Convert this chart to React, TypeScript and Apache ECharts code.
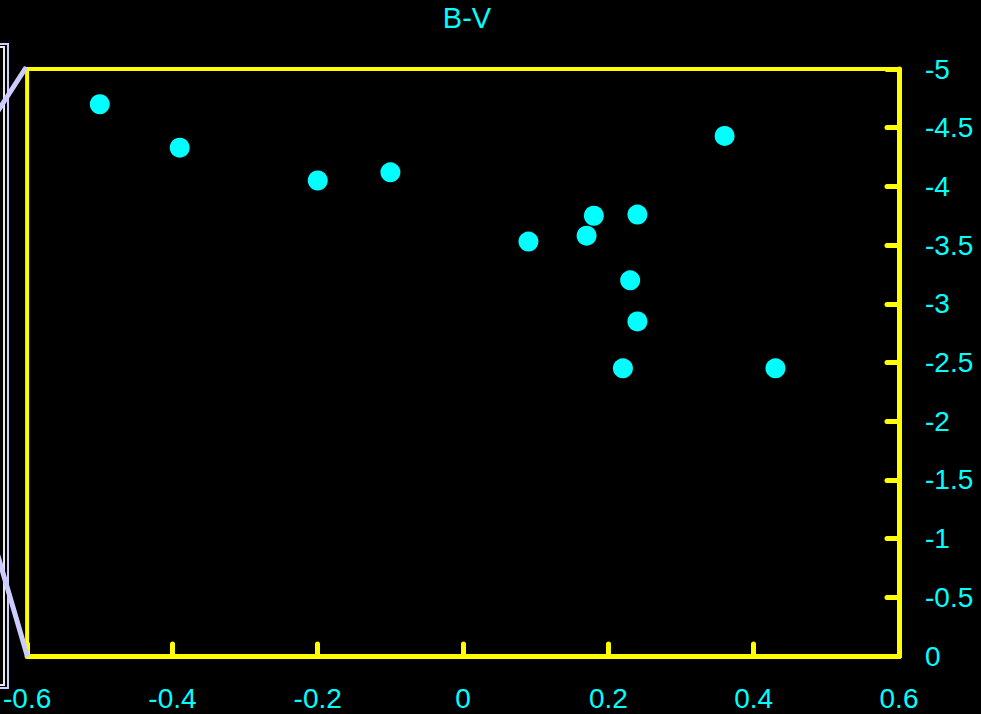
import React, { useEffect, useRef } from "react";
import * as echarts from "echarts";

const titleText = "B-V";
const bvValues = [-0.5, -0.39, -0.2, -0.1, 0.09, 0.18, 0.24, 0.17, 0.23, 0.24, 0.22, 0.43, 0.36];
const magValues = [-4.7, -4.33, -4.05, -4.12, -3.53, -3.75, -3.76, -3.58, -3.2, -2.85, -2.45, -2.45, -4.43];

const YELLOW = "#ffff00";
const CYAN = "#00ffff";
const LAVENDER = "#ccccff";
const FONT = "Liberation Sans, Arial, sans-serif";

export default function App() {
  const ref = useRef<HTMLDivElement>(null);
  useEffect(() => {
    if (!ref.current) return;
    const chart = echarts.init(ref.current, null, { renderer: "svg" });
    const data = bvValues.map((x, i) => [x, magValues[i]]);
    chart.setOption({
      animation: false,
      backgroundColor: "#000000",
      title: {
        text: titleText,
        left: 462,
        top: -2,
        textAlign: "center",
        textStyle: { color: CYAN, fontSize: 29, fontWeight: "normal", fontFamily: FONT },
      },
      grid: {
        left: 25,
        right: 82,
        top: 69,
        bottom: 58,
        show: true,
        borderColor: YELLOW,
        borderWidth: 4,
        backgroundColor: "transparent",
      },
      xAxis: {
        type: "value",
        min: -0.6,
        max: 0.6,
        interval: 0.2,
        position: "bottom",
        axisLine: { show: true, onZero: false, lineStyle: { color: YELLOW, width: 5, cap: "round" } },
        axisTick: { show: true, inside: true, length: 12, lineStyle: { color: YELLOW, width: 5, cap: "round" } },
        axisLabel: { color: CYAN, fontSize: 28, margin: 28, fontFamily: FONT },
        splitLine: { show: false },
      },
      yAxis: {
        type: "value",
        min: -5,
        max: 0,
        interval: 0.5,
        inverse: true,
        position: "right",
        axisLine: { show: true, onZero: false, lineStyle: { color: YELLOW, width: 5, cap: "round" } },
        axisTick: { show: true, inside: true, length: 12, lineStyle: { color: YELLOW, width: 5, cap: "round" } },
        axisLabel: { color: CYAN, fontSize: 28, margin: 26, fontFamily: FONT },
        splitLine: { show: false },
      },
      graphic: [
        {
          type: "rect",
          shape: { x: -20, y: 44, width: 28, height: 644 },
          style: { fill: "transparent", stroke: LAVENDER, lineWidth: 2 },
          z: 100,
        },
        {
          type: "rect",
          shape: { x: -20, y: 47, width: 24, height: 638 },
          style: { fill: "transparent", stroke: "#e8e8e8", lineWidth: 2 },
          z: 100,
        },
        {
          type: "line",
          shape: { x1: 25, y1: 69, x2: -2, y2: 111 },
          style: { stroke: LAVENDER, lineWidth: 5, lineCap: "round" },
          z: 101,
        },
        {
          type: "line",
          shape: { x1: 27, y1: 655, x2: -2, y2: 556 },
          style: { stroke: LAVENDER, lineWidth: 5, lineCap: "round" },
          z: 101,
        },
      ],
      series: [
        {
          type: "scatter",
          data,
          symbol: "circle",
          symbolSize: 20,
          itemStyle: { color: CYAN, opacity: 1 },
        },
      ],
    });
    return () => chart.dispose();
  }, []);
  return (
    <div
      ref={ref}
      style={{ position: "fixed", left: 0, top: 0, width: 981, height: 714, background: "#000" }}
    />
  );
}
